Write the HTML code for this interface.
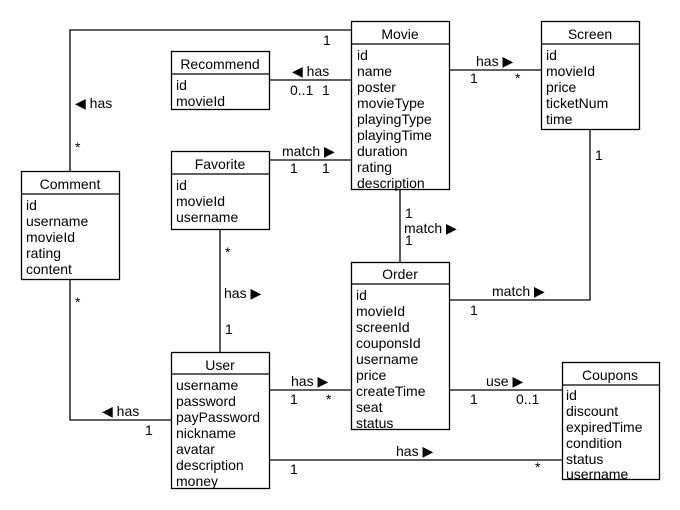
<!DOCTYPE html>
<html><head><meta charset="utf-8"><style>
html,body{margin:0;padding:0;background:#fff;}
svg{display:block;}
text{font-family:"Liberation Sans",sans-serif;font-size:14px;fill:#000;}
</style></head><body>
<svg width="680" height="510" viewBox="0 0 680 510" xmlns="http://www.w3.org/2000/svg">
<g fill="none" stroke="#000" stroke-width="1.3">
<!-- connectors -->
<polyline points="70,171 70,30 351,30"/>
<line x1="269" y1="80" x2="351" y2="80"/>
<line x1="269" y1="160" x2="351" y2="160"/>
<line x1="449" y1="70" x2="541" y2="70"/>
<line x1="400" y1="189" x2="400" y2="262"/>
<polyline points="590,129 590,300 449,300"/>
<line x1="220" y1="229" x2="220" y2="352"/>
<polyline points="70,279 70,420 171,420"/>
<line x1="269" y1="390" x2="351" y2="390"/>
<line x1="449" y1="390" x2="562" y2="390"/>
<line x1="269" y1="460" x2="562" y2="460"/>
</g>
<g fill="#fff" stroke="#000" stroke-width="1.3">
<rect x="351.5" y="21.5" width="98" height="168"/><line x1="351.5" y1="44" x2="449.5" y2="44"/>
<rect x="541.5" y="21.5" width="98" height="108"/><line x1="541.5" y1="44" x2="639.5" y2="44"/>
<rect x="171.5" y="51.5" width="98" height="58"/><line x1="171.5" y1="74" x2="269.5" y2="74"/>
<rect x="171.5" y="151.5" width="98" height="78"/><line x1="171.5" y1="174" x2="269.5" y2="174"/>
<rect x="21.5" y="171.5" width="98" height="108"/><line x1="21.5" y1="194" x2="119.5" y2="194"/>
<rect x="171.5" y="352.5" width="98" height="136"/><line x1="171.5" y1="374" x2="269.5" y2="374"/>
<rect x="351.5" y="262.5" width="98" height="167"/><line x1="351.5" y1="284" x2="449.5" y2="284"/>
<rect x="562.5" y="362.5" width="97" height="117"/><line x1="562.5" y1="385" x2="659.5" y2="385"/>
</g>
<!-- class titles -->
<g text-anchor="middle">
<text x="400" y="39">Movie</text>
<text x="590" y="39">Screen</text>
<text x="220" y="69">Recommend</text>
<text x="220" y="169">Favorite</text>
<text x="70" y="189">Comment</text>
<text x="220" y="370">User</text>
<text x="400" y="279">Order</text>
<text x="610" y="380">Coupons</text>
</g>
<!-- attributes -->
<text x="357" y="60">id</text><text x="357" y="76">name</text><text x="357" y="92">poster</text><text x="357" y="108">movieType</text><text x="357" y="124">playingType</text><text x="357" y="140">playingTime</text><text x="357" y="156">duration</text><text x="357" y="172">rating</text><text x="357" y="188">description</text>
<text x="546" y="60">id</text><text x="546" y="76">movieId</text><text x="546" y="92">price</text><text x="546" y="108">ticketNum</text><text x="546" y="124">time</text>
<text x="176" y="90">id</text><text x="176" y="106">movieId</text>
<text x="176" y="190">id</text><text x="176" y="206">movieId</text><text x="176" y="222">username</text>
<text x="26" y="210">id</text><text x="26" y="226">username</text><text x="26" y="242">movieId</text><text x="26" y="258">rating</text><text x="26" y="274">content</text>
<text x="176" y="390">username</text><text x="176" y="406">password</text><text x="176" y="422">payPassword</text><text x="176" y="438">nickname</text><text x="176" y="454">avatar</text><text x="176" y="470">description</text><text x="176" y="486">money</text>
<text x="356" y="300">id</text><text x="356" y="316">movieId</text><text x="356" y="332">screenId</text><text x="356" y="348">couponsId</text><text x="356" y="364">username</text><text x="356" y="380">price</text><text x="356" y="396">createTime</text><text x="356" y="412">seat</text><text x="356" y="428">status</text>
<text x="566" y="400">id</text><text x="566" y="416">discount</text><text x="566" y="432">expiredTime</text><text x="566" y="448">condition</text><text x="566" y="464">status</text><text x="566" y="479">username</text>
<!-- connector labels -->
<text x="323" y="45">1</text><text x="75" y="108">◀ has</text><text x="75" y="152">*</text>
<text x="292" y="76">◀ has</text><text x="290" y="95">0..1</text><text x="322" y="95">1</text>
<text x="282" y="156">match ▶</text><text x="290" y="173">1</text><text x="322" y="173">1</text>
<text x="476" y="66">has ▶</text><text x="470" y="83">1</text><text x="515" y="83">*</text>
<text x="405" y="218">1</text><text x="404" y="233">match ▶</text><text x="405" y="245">1</text>
<text x="595" y="160">1</text><text x="492" y="296">match ▶</text><text x="470" y="315">1</text>
<text x="225" y="257">*</text><text x="224" y="298">has ▶</text><text x="225" y="334">1</text>
<text x="75" y="307">*</text><text x="102" y="416">◀ has</text><text x="145" y="435">1</text>
<text x="291" y="386">has ▶</text><text x="290" y="404">1</text><text x="326" y="404">*</text>
<text x="486" y="386">use ▶</text><text x="470" y="404">1</text><text x="516" y="404">0..1</text>
<text x="396" y="456">has ▶</text><text x="290" y="474">1</text><text x="535" y="472">*</text>
</svg>
</body></html>
